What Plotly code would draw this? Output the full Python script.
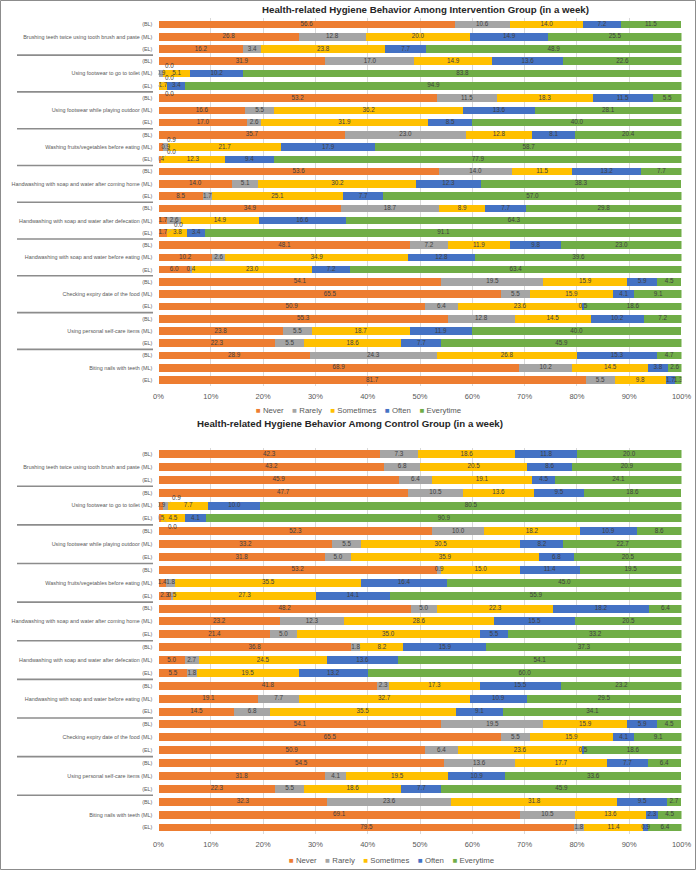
import plotly.graph_objects as go

# ---------------- data ----------------
behaviors = [
    "Brushing teeth twice using tooth brush and paste",
    "Using footwear to go to toilet",
    "Using footwear while playing outdoor",
    "Washing fruits/vegetables before eating",
    "Handwashing with soap and water after coming home",
    "Handwashing with soap and water after defecation",
    "Handwashing with soap and water before eating",
    "Checking expiry date of the food",
    "Using personal self-care items",
    "Biting nails with teeth",
]
levels = ["BL", "ML", "EL"]
series_names = ["Never", "Rarely", "Sometimes", "Often", "Everytime"]
x_tick_vals = [0, 10, 20, 30, 40, 50, 60, 70, 80, 90, 100]
x_tick_text = ["0%", "10%", "20%", "30%", "40%", "50%", "60%", "70%", "80%", "90%", "100%"]

# Intervention group (rows: behaviour x BL/ML/EL)
int_never = [56.6, 26.8, 16.2, 31.9, 0.0, 0.0, 53.2, 16.6, 17.0, 35.7, 0.9, 0.4,
             53.6, 14.0, 8.5, 34.9, 1.7, 1.7, 48.1, 10.2, 6.0, 54.1, 65.5, 50.9,
             55.3, 23.8, 22.3, 28.9, 68.9, 81.7]
int_rarely = [10.6, 12.8, 3.4, 17.0, 0.9, 0.0, 11.5, 5.5, 2.6, 23.0, 0.9, 0.0,
              14.0, 5.1, 1.7, 18.7, 2.6, 0.0, 7.2, 2.6, 0.4, 19.5, 5.5, 6.4,
              12.8, 5.5, 5.5, 24.3, 10.2, 5.5]
int_sometimes = [14.0, 20.0, 23.8, 14.9, 5.1, 1.7, 18.3, 36.2, 31.9, 12.8, 21.7, 12.3,
                 11.5, 30.2, 25.1, 8.9, 14.9, 3.8, 11.9, 34.9, 23.0, 15.9, 15.9, 23.6,
                 14.5, 18.7, 18.6, 26.8, 14.5, 9.8]
int_often = [7.2, 14.9, 7.7, 13.6, 10.2, 3.4, 11.5, 13.6, 8.5, 8.1, 17.9, 9.4,
             13.2, 12.3, 7.7, 7.7, 16.6, 3.4, 9.8, 12.8, 7.2, 5.9, 4.1, 0.5,
             10.2, 11.9, 7.7, 15.3, 3.8, 1.7]
int_everytime = [11.5, 25.5, 48.9, 22.6, 83.8, 94.9, 5.5, 28.1, 40.0, 20.4, 58.7, 77.9,
                 7.7, 38.3, 57.0, 29.8, 64.3, 91.1, 23.0, 39.6, 63.4, 4.5, 9.1, 18.6,
                 7.2, 40.0, 45.9, 4.7, 2.6, 1.3]

# Control group
ctl_never = [42.3, 43.2, 45.9, 47.7, 0.9, 0.5, 52.3, 33.2, 31.8, 53.2, 1.4, 2.3,
             48.2, 23.2, 21.4, 36.8, 5.0, 5.5, 41.8, 19.1, 14.5, 54.1, 65.5, 50.9,
             54.5, 31.8, 22.3, 32.3, 69.1, 79.5]
ctl_rarely = [7.3, 6.8, 6.4, 10.5, 0.9, 0.0, 10.0, 5.5, 5.0, 0.9, 1.8, 0.5,
              5.0, 12.3, 5.0, 1.8, 2.7, 1.8, 2.3, 7.7, 6.8, 19.5, 5.5, 6.4,
              13.6, 4.1, 5.5, 23.6, 10.5, 1.8]
ctl_sometimes = [18.6, 20.5, 19.1, 13.6, 7.7, 4.5, 18.2, 30.5, 35.9, 15.0, 35.5, 27.3,
                 22.3, 28.6, 35.0, 8.2, 24.5, 19.5, 17.3, 32.7, 35.5, 15.9, 15.9, 23.6,
                 17.7, 19.5, 18.6, 31.8, 13.6, 11.4]
ctl_often = [11.8, 8.6, 4.5, 9.5, 10.0, 4.1, 10.9, 8.2, 6.8, 11.4, 16.4, 14.1,
             18.2, 15.5, 5.5, 15.9, 13.6, 13.2, 15.5, 10.9, 9.1, 5.9, 4.1, 0.5,
             7.7, 10.9, 7.7, 9.5, 2.3, 0.9]
ctl_everytime = [20.0, 20.9, 24.1, 18.6, 80.5, 90.9, 8.6, 22.7, 20.5, 19.5, 45.0, 55.9,
                 6.4, 20.5, 33.2, 37.3, 54.1, 60.0, 23.2, 29.5, 34.1, 4.5, 9.1, 18.6,
                 6.4, 33.6, 45.9, 2.7, 4.5, 6.4]

# labels that Excel pushed outside the bar: (row, series index, direction)
int_callouts = [(4, 0, "up"), (5, 0, "up"), (5, 1, "down"), (10, 0, "up"), (11, 1, "up"), (17, 1, "up")]
ctl_callouts = [(4, 1, "up"), (5, 1, "down")]

# ---------------- style ----------------
colors = ["#ED7D31", "#A5A5A5", "#FFC000", "#4472C4", "#70AD47"]
FONT = "Liberation Sans Narrow, Arial Narrow, Liberation Sans, Arial, sans-serif"
W, H = 696, 870
panels = [
    dict(data=[int_never, int_rarely, int_sometimes, int_often, int_everytime],
         callouts=int_callouts, row0=24.5, row29=380.0, title_y=10, title_x=425,
         legend_y=411, legend_x=358, xa="x", ya="y",
         title="Health-related Hygiene Behavior Among Intervention Group (in a week)"),
    dict(data=[ctl_never, ctl_rarely, ctl_sometimes, ctl_often, ctl_everytime],
         callouts=ctl_callouts, row0=454.0, row29=827.5, title_y=423, title_x=350,
         legend_y=860, legend_x=391, xa="x2", ya="y2",
         title="Health-related Hygiene Behavior Among Control Group (in a week)"),
]

n_rows = len(behaviors) * len(levels)
rows = list(range(n_rows))
tick_text = []
for b in behaviors:
    for lv in levels:
        tick_text.append(f"{b} ({lv})" if lv == "ML" else f"({lv})")

fig = go.Figure()
annotations = []
shapes = []
layout_axes = {}

x0_px, x1_px = 158.5, 681.5
for p in panels:
    data = p["data"]
    for s, (nm, col) in enumerate(zip(series_names, colors)):
        fig.add_trace(go.Bar(
            x=data[s], y=rows, orientation="h", name=nm,
            marker=dict(color=col, line=dict(width=0)),
            xaxis=p["xa"], yaxis=p["ya"], showlegend=False, hoverinfo="skip",
        ))
    # data labels
    callout_keys = {(r, s) for r, s, _ in p["callouts"]}
    tx, ty, tt = [], [], []
    for r in rows:
        cum = 0.0
        for s in range(5):
            v = data[s][r]
            if v > 0 and (r, s) not in callout_keys:
                tx.append(cum + v / 2)
                ty.append(r)
                tt.append(f"{v:.1f}")
            cum += v
    fig.add_trace(go.Scatter(
        x=tx, y=ty, text=tt, mode="text", textposition="middle center",
        textfont=dict(family=FONT, size=6.3, color="#404040"),
        xaxis=p["xa"], yaxis=p["ya"], showlegend=False, hoverinfo="skip",
    ))
    for r, s, d in p["callouts"]:
        cum = sum(data[k][r] for k in range(s))
        v = data[s][r]
        annotations.append(dict(
            x=cum + v / 2, y=r, xref=p["xa"], yref=p["ya"], text=f"{v:.1f}",
            showarrow=True, arrowhead=0, arrowwidth=0.6, arrowcolor="#A6A6A6",
            ax=11, ay=-8 if d == "up" else 8,
            font=dict(family=FONT, size=6.3, color="#404040"),
        ))
    # domain
    sp = (p["row29"] - p["row0"]) / (n_rows - 1)
    top = p["row0"] - sp / 2
    bot = p["row29"] + sp / 2
    dom_y = [1 - bot / H, 1 - top / H]
    dom_x = [x0_px / W, x1_px / W]
    xname = "xaxis" if p["xa"] == "x" else "xaxis2"
    yname = "yaxis" if p["ya"] == "y" else "yaxis2"
    layout_axes[xname] = dict(
        domain=dom_x, range=[0, 100], tickvals=x_tick_vals, ticktext=x_tick_text,
        showgrid=True, gridcolor="#D9D9D9", gridwidth=1, zeroline=False,
        showline=False, ticks="outside", ticklen=3, tickcolor="rgba(0,0,0,0)",
        tickfont=dict(family=FONT, size=7.5, color="#595959"),
        anchor=p["ya"], fixedrange=True, automargin=False,
    )
    layout_axes[yname] = dict(
        domain=dom_y, range=[n_rows - 0.5, -0.5], tickvals=rows, ticktext=tick_text,
        showgrid=False, zeroline=False, showline=False,
        ticks="outside", ticklen=4, tickcolor="rgba(0,0,0,0)",
        tickfont=dict(family=FONT, size=5.4, color="#595959"),
        anchor=p["xa"], fixedrange=True, automargin=False,
    )
    # group separators on the category axis
    for g in range(1, len(behaviors)):
        shapes.append(dict(type="line", xref="paper", yref=p["ya"],
                           x0=17 / W, x1=153 / W, y0=g * 3 - 0.5, y1=g * 3 - 0.5,
                           line=dict(color="#8C8C8C", width=1.6)))
    # title
    annotations.append(dict(
        x=p["title_x"] / W, y=1 - p["title_y"] / H, xref="paper", yref="paper",
        text=f"<b>{p['title']}</b>", showarrow=False, xanchor="center", yanchor="middle",
        font=dict(family=FONT, size=9.7, color="#262626"),
    ))
    # legend (compact, Excel-like)
    leg = "&nbsp;&nbsp;&nbsp;&nbsp;".join(
        f"<span style='color:{c}'>■</span> {n}" for n, c in zip(series_names, colors))
    annotations.append(dict(
        x=p["legend_x"] / W, y=1 - p["legend_y"] / H, xref="paper", yref="paper",
        text=leg, showarrow=False, xanchor="center", yanchor="middle",
        font=dict(family=FONT, size=7.8, color="#595959"),
    ))

# outer border
shapes.append(dict(type="rect", xref="paper", yref="paper", x0=0.5 / W, x1=1 - 0.5 / W,
                   y0=0.5 / H, y1=1 - 0.5 / H, line=dict(color="#8C8C8C", width=1)))

fig.update_layout(
    width=W, height=H, margin=dict(l=0, r=0, t=0, b=0, autoexpand=False),
    paper_bgcolor="white", plot_bgcolor="white",
    barmode="stack", bargap=0.38, showlegend=False,
    font=dict(family=FONT, color="#595959"),
    annotations=annotations, shapes=shapes,
    **layout_axes,
)

# remove the browser's default 8px body margin so the figure fills the window
fig.write_html("out.html", config={"displayModeBar": False, "staticPlot": True},
               post_script="document.body.style.margin='0';")
